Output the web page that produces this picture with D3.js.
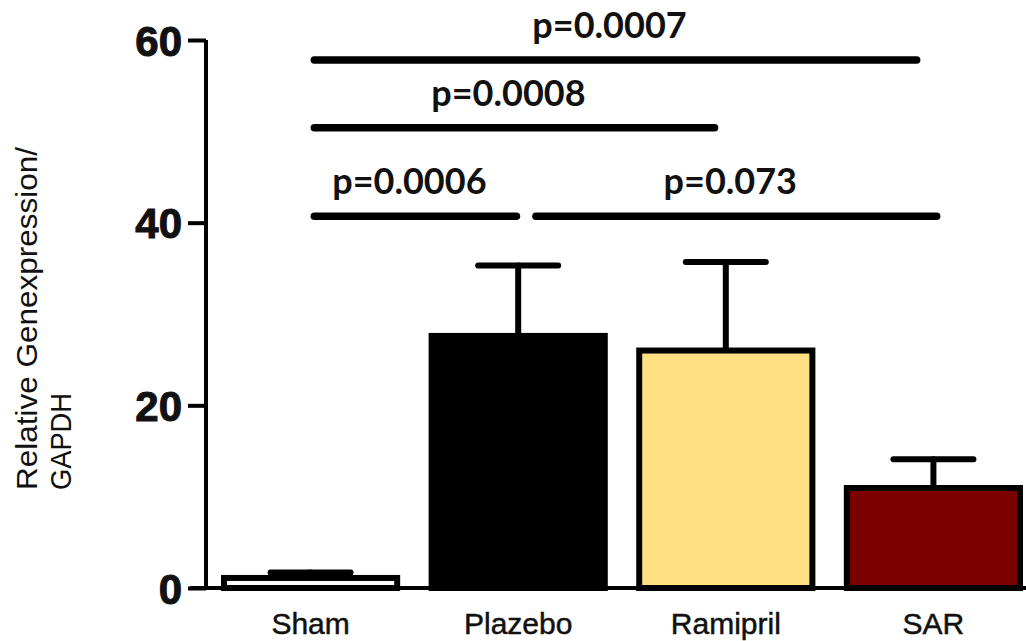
<!DOCTYPE html>
<html>
<head>
<meta charset="utf-8">
<script src="https://cdn.jsdelivr.net/npm/d3@7"></script>
<style>
  html, body { margin: 0; padding: 0; background: #fff; }
  svg { display: block; }
</style>
</head>
<body>
<svg id="chart" width="1026" height="641"></svg>
<script>
// ---- data ----
const categories = ["Sham", "Plazebo", "Ramipril", "SAR"];
const means = [1.1, 27.6, 26.0, 10.95];
const sems = [0.6, 7.7, 9.7, 3.15];
const barColors = ["#ffffff", "#000000", "#ffe082", "#7b0000"];
const yTicks = [0, 20, 40, 60];
const yTitle = ["Relative Genexpression/", "GAPDH"];
const sigFrom = ["Sham", "Sham", "Sham", "Plazebo"];
const sigTo = ["SAR", "Ramipril", "Plazebo", "SAR"];
const sigLevel = [57.8, 50.4, 40.7, 40.7];
const sigLabel = ["p=0.0007", "p=0.0008", "p=0.0006", "p=0.073"];

// ---- layout ----
const svg = d3.select("#chart");
const axisX = 206;
const y = d3.scaleLinear().domain([0, 60]).range([588, 40]);
const x = d3.scaleBand().domain(categories).range([221, 1023]).paddingInner(0.137).paddingOuter(0);
const sw = 6;

// bars
svg.append("g").selectAll("rect").data(categories).join("rect")
  .attr("x", d => x(d) + sw / 2)
  .attr("width", x.bandwidth() - sw)
  .attr("y", (d, i) => y(means[i]))
  .attr("height", (d, i) => y(0) - y(means[i]))
  .attr("fill", (d, i) => barColors[i])
  .attr("stroke", "#000")
  .attr("stroke-width", sw);

// error bars (upper only)
const eg = svg.append("g").attr("stroke", "#000").attr("stroke-width", sw).attr("stroke-linecap", "round");
categories.forEach((c, i) => {
  const cx = x(c) + x.bandwidth() / 2;
  const top = y(means[i] + sems[i]);
  eg.append("line").attr("x1", cx).attr("x2", cx).attr("y1", y(means[i]) - sw / 2).attr("y2", top);
  eg.append("line").attr("x1", cx - 40).attr("x2", cx + 40).attr("y1", top).attr("y2", top);
});

// axes
const yAxis = d3.axisLeft(y).tickValues(yTicks).tickSize(18).tickPadding(6).tickFormat(d3.format("d"));
const ya = svg.append("g").attr("transform", `translate(${axisX},0)`).call(yAxis);
ya.select(".domain").attr("d", `M0,${y(60)}V${y(0)}`).attr("stroke", "#000").attr("stroke-width", 4);
ya.selectAll(".tick line").attr("stroke", "#000").attr("stroke-width", 4);
ya.selectAll(".tick text")
  .attr("font-family", "'Liberation Sans', Arial, sans-serif")
  .attr("font-weight", "bold")
  .attr("font-size", 42)
  .attr("fill", "#111")
  .attr("stroke", "#111").attr("stroke-width", 1)
  .attr("dy", "0.36em");

// x axis line
svg.append("line").attr("x1", 190).attr("x2", 1026).attr("y1", y(0)).attr("y2", y(0))
  .attr("stroke", "#000").attr("stroke-width", 4);

// x labels
const xAxis = d3.axisBottom(x).tickSize(0).tickPadding(0);
const xa = svg.append("g").attr("transform", `translate(0,${y(0)})`).call(xAxis);
xa.select(".domain").remove();
xa.selectAll(".tick text")
  .attr("font-family", "'Liberation Sans', Arial, sans-serif")
  .attr("font-size", 30)
  .attr("fill", "#111")
  .attr("stroke", "#111").attr("stroke-width", 0.5)
  .attr("y", 46).attr("dy", 0);

// y title
const titleX = [37, 71];
const titleLen = [343, 97];
yTitle.forEach((t, i) => {
  svg.append("text")
    .attr("transform", `translate(${titleX[i]},490) rotate(-90)`)
    .attr("font-family", "'Liberation Sans', Arial, sans-serif")
    .attr("font-size", 29)
    .attr("fill", "#111")
    .attr("textLength", titleLen[i])
    .attr("lengthAdjust", "spacingAndGlyphs")
    .text(t);
});

// significance lines
const sigOffsets = [[0, -13], [0, -7.5], [0, 2], [14, 7]];
const lw = 7.5;
const sg = svg.append("g");
sigLabel.forEach((lab, i) => {
  const x1 = x(sigFrom[i]) + x.bandwidth() / 2 + sigOffsets[i][0] + lw / 2;
  const x2 = x(sigTo[i]) + x.bandwidth() / 2 + sigOffsets[i][1] - lw / 2;
  const yy = y(sigLevel[i]);
  sg.append("line").attr("x1", x1).attr("x2", x2).attr("y1", yy).attr("y2", yy)
    .attr("stroke", "#000").attr("stroke-width", lw).attr("stroke-linecap", "round");
  sg.append("text")
    .attr("x", (x1 + x2) / 2 - 6).attr("y", yy - 22)
    .attr("text-anchor", "middle")
    .attr("font-family", "Lato, 'Open Sans', sans-serif")
    .attr("font-weight", "bold")
    .attr("font-size", 36)
    .attr("fill", "#111")
    .text(lab);
});
</script>
</body>
</html>
